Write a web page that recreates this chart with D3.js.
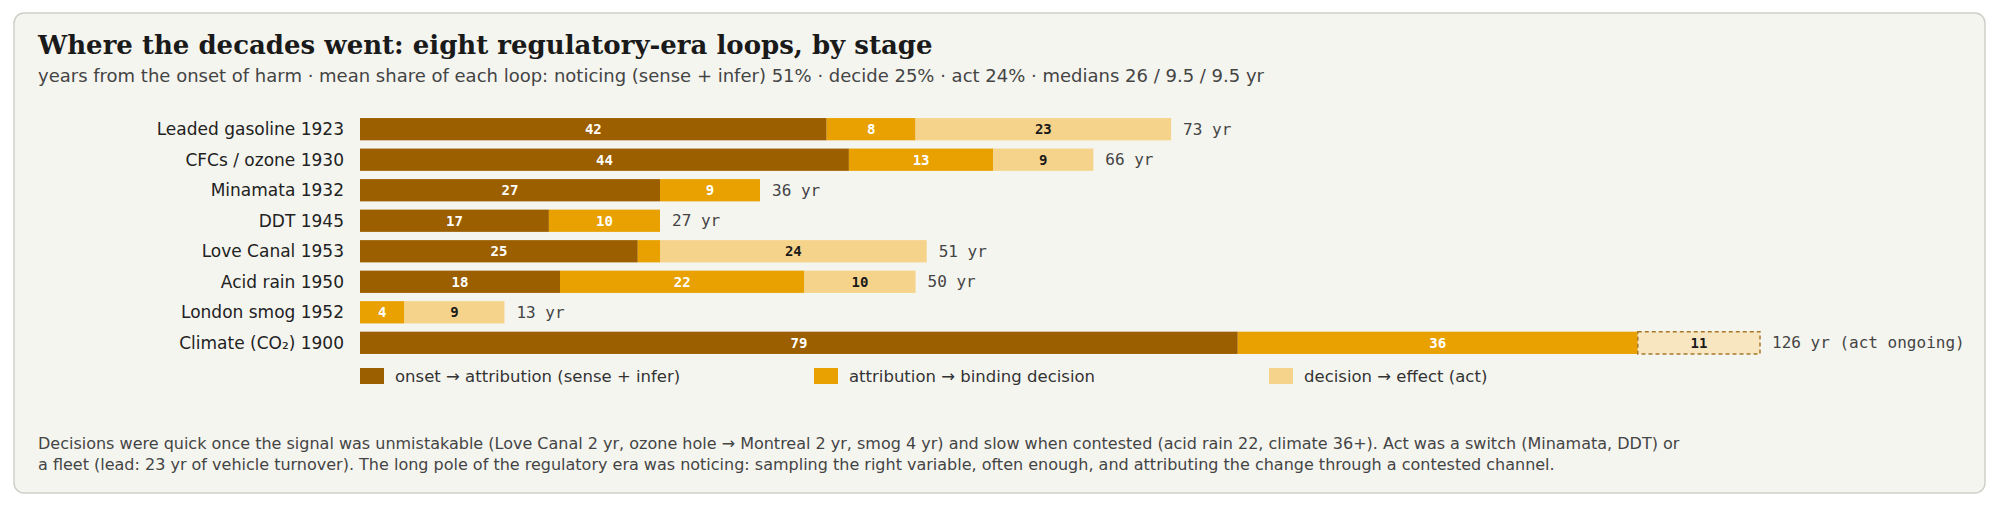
<!DOCTYPE html>
<html>
<head>
<meta charset="utf-8">
<script src="https://cdn.jsdelivr.net/npm/d3@7"></script>
<style>
  body { margin: 0; background: #fff; }
  text { font-family: "DejaVu Sans", sans-serif; }
</style>
</head>
<body>
<svg id="chart" width="2000" height="507"></svg>
<script>
// data
var loops = ["Leaded gasoline 1923", "CFCs / ozone 1930", "Minamata 1932", "DDT 1945",
             "Love Canal 1953", "Acid rain 1950", "London smog 1952", "Climate (CO\u2082) 1900"];
var notice = [42, 44, 27, 17, 25, 18, 0, 79];
var decide = [8, 13, 9, 10, 2, 22, 4, 36];
var act    = [23, 9, 0, 0, 24, 10, 9, 11];
var ongoing = [false, false, false, false, false, false, false, true];
var stageNames = ["onset \u2192 attribution (sense + infer)", "attribution \u2192 binding decision", "decision \u2192 effect (act)"];
var colors = ["#9c5f00", "#e8a100", "#f6d38a"];

var svg = d3.select("#chart");
svg.append("rect").attr("x", 14).attr("y", 13).attr("width", 1971).attr("height", 480)
  .attr("rx", 10).attr("fill", "#f5f5f0").attr("stroke", "#cfcfca").attr("stroke-width", 1.5);

svg.append("text").attr("x", 38).attr("y", 54)
  .style("font-family", "'DejaVu Serif', serif").style("font-weight", "bold").style("font-size", "26px")
  .attr("fill", "#1a1a1a").text("Where the decades went: eight regulatory-era loops, by stage");
svg.append("text").attr("x", 38).attr("y", 82).style("font-size", "18px").attr("fill", "#444")
  .text("years from the onset of harm \u00b7 mean share of each loop: noticing (sense + infer) 51% \u00b7 decide 25% \u00b7 act 24% \u00b7 medians 26 / 9.5 / 9.5 yr");

var x = d3.scaleLinear().domain([0, 126]).range([360, 1760]);
var y = d3.scaleBand().domain(loops).range([115, 357]).paddingInner(0.27).paddingOuter(0.1);
var mono = "'DejaVu Sans Mono', monospace";

loops.forEach(function(name, i) {
  var segs = [notice[i], decide[i], act[i]];
  var y0 = y(name), h = y.bandwidth();
  svg.append("text").attr("x", 344).attr("y", y0 + h / 2).attr("dy", "0.35em")
    .attr("text-anchor", "end").style("font-size", "17px").attr("fill", "#222").text(name);
  var start = 0;
  segs.forEach(function(v, k) {
    if (v > 0) {
      var dashed = k === 2 && ongoing[i];
      svg.append("rect").attr("x", x(start)).attr("y", y0)
        .attr("width", x(start + v) - x(start)).attr("height", h)
        .attr("fill", dashed ? "#f8e6c0" : colors[k])
        .attr("stroke", dashed ? "#a8782a" : "none")
        .attr("stroke-dasharray", dashed ? "4,3" : null).attr("stroke-width", 1.5);
      if (v >= 4) {
        svg.append("text").attr("x", (x(start) + x(start + v)) / 2).attr("y", y0 + h / 2)
          .attr("dy", "0.35em").attr("text-anchor", "middle")
          .style("font-family", mono).style("font-weight", "bold").style("font-size", "14px")
          .attr("fill", k === 2 ? "#1a1a1a" : "#fff").text(v);
      }
    }
    start += v;
  });
  svg.append("text").attr("x", x(start) + 12).attr("y", y0 + h / 2).attr("dy", "0.35em")
    .style("font-family", mono).style("font-size", "16px").attr("fill", "#444")
    .text(start + " yr" + (ongoing[i] ? " (act ongoing)" : ""));
});

var legX = [360, 814, 1269];
stageNames.forEach(function(s, k) {
  svg.append("rect").attr("x", legX[k]).attr("y", 368).attr("width", 24).attr("height", 16).attr("fill", colors[k]);
  svg.append("text").attr("x", legX[k] + 35).attr("y", 376).attr("dy", "0.35em")
    .style("font-size", "16.5px").attr("fill", "#333").text(s);
});

var notes = [
  "Decisions were quick once the signal was unmistakable (Love Canal 2 yr, ozone hole \u2192 Montreal 2 yr, smog 4 yr) and slow when contested (acid rain 22, climate 36+). Act was a switch (Minamata, DDT) or",
  "a fleet (lead: 23 yr of vehicle turnover). The long pole of the regulatory era was noticing: sampling the right variable, often enough, and attributing the change through a contested channel."
];
notes.forEach(function(t, i) {
  svg.append("text").attr("x", 38).attr("y", 449 + i * 21).style("font-size", "16px").attr("fill", "#444").text(t);
});
</script>
</body>
</html>
